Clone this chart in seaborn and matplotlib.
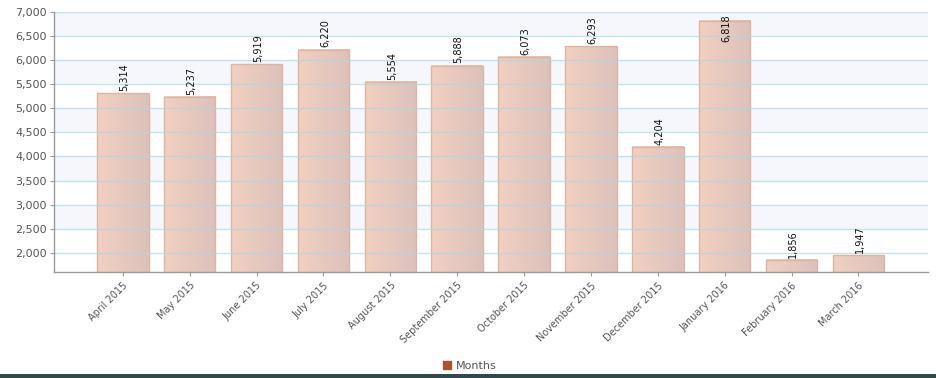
import numpy as np
import pandas as pd
import matplotlib
matplotlib.use("Agg")
import matplotlib.pyplot as plt
from matplotlib.patches import Patch, Rectangle
from matplotlib.colors import LinearSegmentedColormap
from matplotlib.ticker import FuncFormatter
import seaborn as sns

months = ["April 2015", "May 2015", "June 2015", "July 2015", "August 2015",
          "September 2015", "October 2015", "November 2015", "December 2015",
          "January 2016", "February 2016", "March 2016"]
values = [5314, 5237, 5919, 6220, 5554, 5888, 6073, 6293, 4204, 6818, 1856, 1947]
y_ticks = [2000, 2500, 3000, 3500, 4000, 4500, 5000, 5500, 6000, 6500, 7000]
series_name = "Months"

df = pd.DataFrame({"month": months, "value": values})

sns.set_theme(style="white")
plt.rcParams["font.family"] = ["DejaVu Sans"]

fig = plt.figure(figsize=(9.36, 3.78), dpi=100)
ax = fig.add_axes([54 / 936, 1 - 272 / 378, (928 - 54) / 936, (272 - 12) / 378])

sns.barplot(data=df, x="month", y="value", ax=ax, width=0.77,
            color="#e6c8bc", edgecolor="#deb4a2", linewidth=1.0)
bars = list(ax.patches)

ymin, ymax = 1600, 7000
xlim = (-1.03, 12.04)

# horizontal gradient fill inside each bar
grad = LinearSegmentedColormap.from_list("peach", ["#f2d0c1", "#dcc1bb"])
gradient = np.linspace(0, 1, 64).reshape(1, -1)
for patch in bars:
    x0 = patch.get_x()
    w, h = patch.get_width(), patch.get_height()
    patch.set_facecolor("none")
    patch.set_zorder(2)
    ax.imshow(gradient, cmap=grad, aspect="auto",
              extent=(x0, x0 + w, ymin, h), zorder=1.5,
              interpolation="bilinear")

ax.set_xlim(*xlim)
ax.set_ylim(ymin, ymax)

# alternating horizontal bands
for lo in [2500, 3500, 4500, 5500, 6500]:
    ax.axhspan(lo, lo + 500, color="#f5f7fd", zorder=0.2, lw=0)

ax.set_yticks(y_ticks)
ax.yaxis.set_major_formatter(FuncFormatter(lambda v, p: f"{int(v):,}"))

# grid lines drawn over the bars
for t in y_ticks:
    ax.axhline(t, color="#a6dbe4", lw=1.0, alpha=0.7, zorder=2.5)

# value labels
for i, v in enumerate(values):
    if v + 650 > ymax:
        ax.annotate(f"{v:,}", (i, ymax), xytext=(1, -2), textcoords="offset points",
                    rotation=90, ha="center", va="top", fontsize=7, color="#111111",
                    zorder=4)
    else:
        ax.annotate(f"{v:,}", (i, v), xytext=(1, 1.5), textcoords="offset points",
                    rotation=90, ha="center", va="bottom", fontsize=7, color="#111111",
                    zorder=4)

ax.set_xlabel("")
ax.set_ylabel("")
for s in ["top", "right"]:
    ax.spines[s].set_visible(False)
for s in ["left", "bottom"]:
    ax.spines[s].set_color("#9a9a9a")
    ax.spines[s].set_linewidth(1.0)

ax.tick_params(axis="y", left=True, length=3, width=0.8, color="#9a9a9a",
               labelsize=8, labelcolor="#555555", pad=2)
ax.tick_params(axis="x", bottom=True, length=3, width=0.8, color="#9a9a9a",
               labelsize=7, labelcolor="#555555", pad=3)
plt.setp(ax.get_xticklabels(), rotation=45, ha="right", rotation_mode="anchor")

handle = Patch(facecolor="#a9522d", edgecolor="#a9522d")
fig.legend([handle], [series_name], loc="center", bbox_to_anchor=(470 / 936, 1 - 366 / 378),
           frameon=False, fontsize=8, labelcolor="#555555", handlelength=0.7,
           handleheight=0.7, handletextpad=0.5)

# dark strip along the bottom edge
fig.patches.append(Rectangle((0, 0), 1, 4 / 378, transform=fig.transFigure,
                             facecolor="#2e4b4b", edgecolor="none"))

fig.savefig("out.png", dpi=100)
